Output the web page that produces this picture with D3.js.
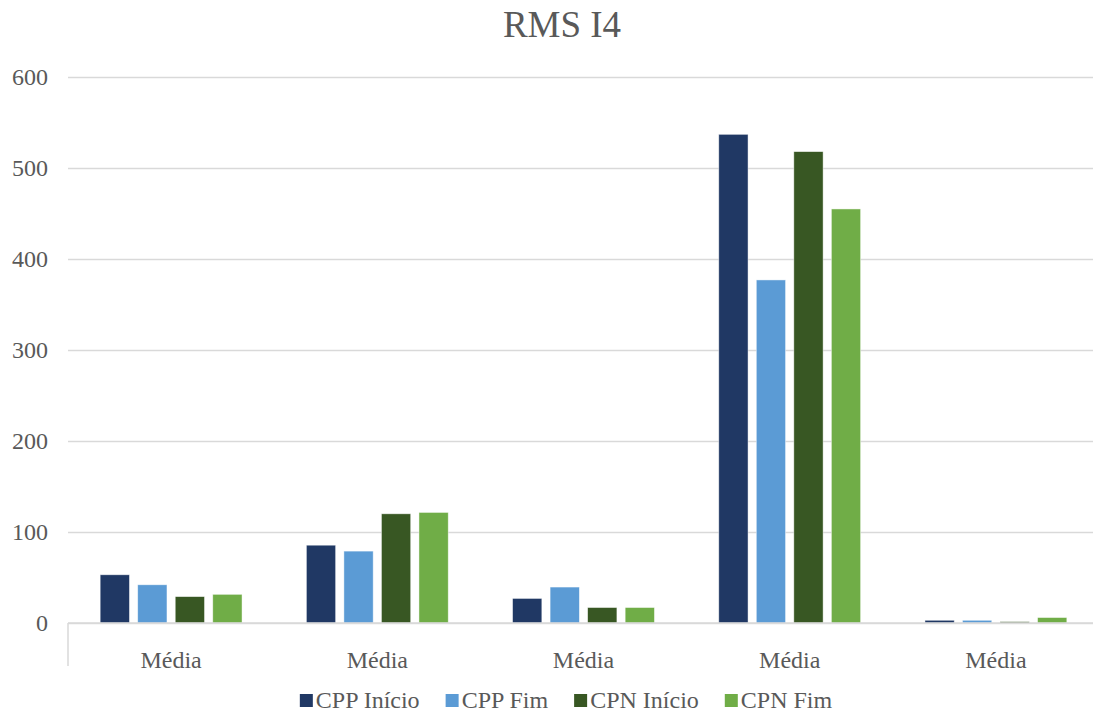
<!DOCTYPE html>
<html>
<head>
<meta charset="utf-8">
<script src="https://cdn.jsdelivr.net/npm/d3@7"></script>
<style>
  html, body { margin: 0; padding: 0; background: #fff; overflow: hidden; }
  svg { display: block; }
  svg text { font-family: "Liberation Serif", "Times New Roman", serif !important; }
</style>
</head>
<body>
<svg id="chart" width="1094" height="715"></svg>
<script>
// Chart data
const title = "RMS I4";
const categories = ["Média", "Média", "Média", "Média", "Média"];
const seriesNames = ["CPP Início", "CPP Fim", "CPN Início", "CPN Fim"];
const seriesColors = ["#203864", "#5B9BD5", "#385723", "#70AD47"];
const cppInicio = [53, 85.5, 27, 537, 3];
const cppFim = [42, 79, 39.5, 377, 3];
const cpnInicio = [29, 120, 17, 518, 1.5];
const cpnFim = [31.5, 121.5, 17, 455, 6];
const yTicks = [0, 100, 200, 300, 400, 500, 600];

const seriesValues = [cppInicio, cppFim, cpnInicio, cpnFim];

const svg = d3.select("#chart");
// the plot area runs slightly past the right edge of the canvas
const m = { left: 68, right: 1099, top: 77, bottom: 623 };
const textColor = "#595959";
const gridColor = "#d9d9d9";
const serif = "'Liberation Serif', 'Times New Roman', serif";

const y = d3.scaleLinear().domain([0, 600]).range([m.bottom, m.top]);
const x0 = d3.scaleBand()
  .domain(categories.map((d, i) => i))
  .range([m.left, m.right])
  .paddingInner(0.312)
  .paddingOuter(0.156);
const x1 = d3.scaleBand()
  .domain(seriesNames.map((d, i) => i))
  .range([0, x0.bandwidth()])
  .paddingInner(0.22)
  .paddingOuter(0);

// Title
svg.append("text")
  .attr("x", 562).attr("y", 37)
  .attr("text-anchor", "middle")
  .attr("font-family", serif)
  .attr("font-size", 37)
  .attr("fill", textColor)
  .text(title);

// Horizontal gridlines and value labels
const yAxis = d3.axisLeft(y).tickValues(yTicks).tickSize(-(1093 - m.left)).tickPadding(20);
const gy = svg.append("g").attr("transform", `translate(${m.left},0)`).call(yAxis)
  .attr("font-family", serif);
gy.select(".domain").remove();
gy.selectAll(".tick line").attr("stroke", gridColor).attr("stroke-width", 1.5);
gy.selectAll(".tick text")
  .attr("font-size", 24)
  .attr("fill", textColor)
  .attr("dy", "0.33em");

// Bars
const groups = svg.append("g").selectAll("g")
  .data(categories.map((c, i) => i))
  .join("g")
  .attr("transform", i => `translate(${x0(i)},0)`);

groups.selectAll("rect")
  .data(i => seriesValues.map((vals, s) => ({ s, v: vals[i] })))
  .join("rect")
  .attr("x", d => x1(d.s))
  .attr("width", x1.bandwidth())
  .attr("y", d => y(d.v))
  .attr("height", d => y(0) - y(d.v))
  .attr("fill", d => seriesColors[d.s])
  .attr("stroke", "#ffffff")
  .attr("stroke-opacity", 0.6)
  .attr("stroke-width", 0.75);

// Category axis
const xAxis = d3.axisBottom(x0).tickSize(0).tickPadding(28).tickFormat(i => categories[i]);
const gx = svg.append("g").attr("transform", `translate(0,${m.bottom})`).call(xAxis)
  .attr("font-family", serif);
gx.select(".domain").remove();
gx.selectAll(".tick text")
  .attr("font-size", 24)
  .attr("fill", textColor);
svg.append("line")
  .attr("x1", m.left).attr("x2", 1093)
  .attr("y1", m.bottom).attr("y2", m.bottom)
  .attr("stroke", gridColor).attr("stroke-width", 1.5);
svg.append("line")
  .attr("x1", m.left).attr("x2", m.left)
  .attr("y1", m.bottom).attr("y2", 666)
  .attr("stroke", gridColor).attr("stroke-width", 1.5);

// Legend
const legend = svg.append("g").attr("font-family", serif);
const items = legend.selectAll("g").data(seriesNames).join("g");
items.append("rect")
  .attr("width", 13).attr("height", 13)
  .attr("y", -14)
  .attr("fill", (d, i) => seriesColors[i]);
items.append("text")
  .attr("x", 16)
  .attr("font-size", 24)
  .attr("fill", textColor)
  .text(d => d);
let cx = 0;
items.each(function () {
  const g = d3.select(this);
  g.attr("transform", `translate(${cx},0)`);
  cx += 16 + g.select("text").node().getComputedTextLength() + 26;
});
const totalW = cx - 26;
legend.attr("transform", `translate(${566 - totalW / 2},708)`);
</script>
</body>
</html>
